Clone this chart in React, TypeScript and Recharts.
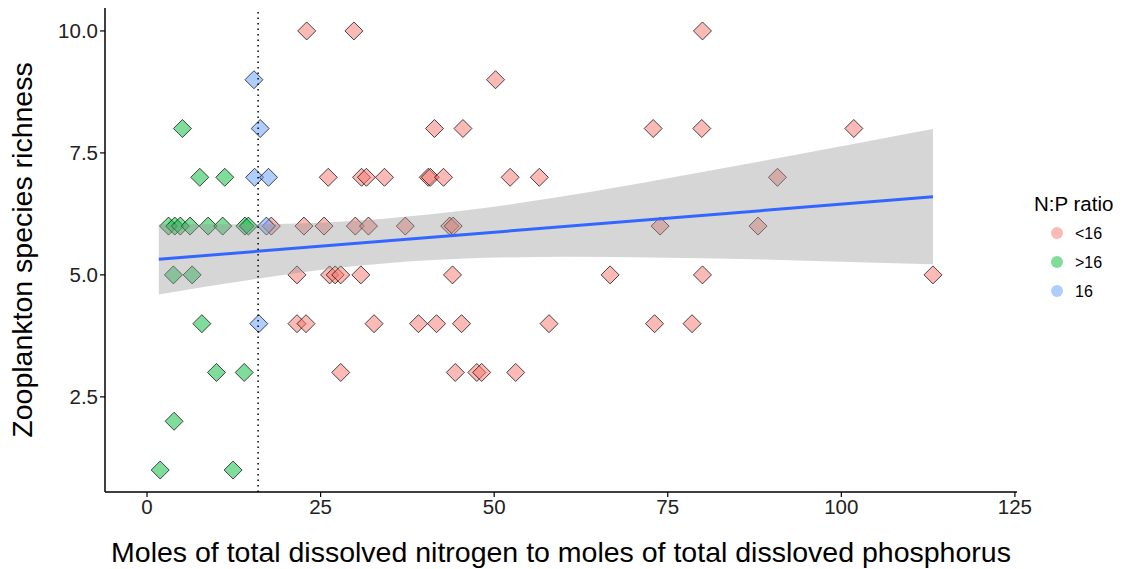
import { Area, ComposedChart, Line, ReferenceLine, Scatter, XAxis, YAxis } from "recharts";

// N:P ratio groups, x = TDN:TDP molar ratio, y = species richness
const belowSixteen = [
  { x: 23.0, y: 10 }, { x: 29.8, y: 10 }, { x: 80.0, y: 10 },
  { x: 50.2, y: 9 },
  { x: 41.4, y: 8 }, { x: 45.5, y: 8 }, { x: 72.9, y: 8 }, { x: 79.9, y: 8 }, { x: 101.8, y: 8 },
  { x: 26.1, y: 7 }, { x: 30.9, y: 7 }, { x: 31.6, y: 7 }, { x: 34.2, y: 7 }, { x: 40.5, y: 7 },
  { x: 40.8, y: 7 }, { x: 42.7, y: 7 }, { x: 52.3, y: 7 }, { x: 56.5, y: 7 }, { x: 90.8, y: 7 },
  { x: 17.9, y: 6 }, { x: 22.6, y: 6 }, { x: 25.5, y: 6 }, { x: 30.0, y: 6 }, { x: 31.9, y: 6 },
  { x: 37.2, y: 6 }, { x: 43.6, y: 6 }, { x: 44.1, y: 6 }, { x: 73.9, y: 6 }, { x: 88.0, y: 6 },
  { x: 21.6, y: 5 }, { x: 26.3, y: 5 }, { x: 27.1, y: 5 }, { x: 27.9, y: 5 }, { x: 30.8, y: 5 },
  { x: 44.0, y: 5 }, { x: 66.7, y: 5 }, { x: 80.0, y: 5 }, { x: 113.2, y: 5 },
  { x: 21.6, y: 4 }, { x: 22.9, y: 4 }, { x: 32.7, y: 4 }, { x: 39.1, y: 4 }, { x: 41.7, y: 4 },
  { x: 45.3, y: 4 }, { x: 57.9, y: 4 }, { x: 73.1, y: 4 }, { x: 78.5, y: 4 },
  { x: 27.9, y: 3 }, { x: 44.4, y: 3 }, { x: 47.5, y: 3 }, { x: 48.2, y: 3 }, { x: 53.1, y: 3 },
];

const aboveSixteen = [
  { x: 5.1, y: 8 },
  { x: 7.6, y: 7 }, { x: 11.2, y: 7 },
  { x: 3.1, y: 6 }, { x: 4.0, y: 6 }, { x: 4.8, y: 6 }, { x: 6.2, y: 6 },
  { x: 8.8, y: 6 }, { x: 10.9, y: 6 }, { x: 14.1, y: 6 }, { x: 14.6, y: 6 },
  { x: 3.8, y: 5 }, { x: 6.5, y: 5 },
  { x: 7.9, y: 4 },
  { x: 10.0, y: 3 }, { x: 14.0, y: 3 },
  { x: 3.9, y: 2 },
  { x: 1.9, y: 1 }, { x: 12.4, y: 1 },
];

const atSixteen = [
  { x: 15.4, y: 9 }, { x: 16.3, y: 8 }, { x: 15.5, y: 7 }, { x: 17.5, y: 7 },
  { x: 17.2, y: 6 }, { x: 16.1, y: 4 },
];

// lm fit and 95% band
const fitLine = [
  { x: 1.7, y: 5.32 },
  { x: 113.2, y: 6.6 },
];

const band = [
  { x: 1.7, lo: 4.6, hi: 6.04 },
  { x: 15, lo: 4.9, hi: 6.04 },
  { x: 30, lo: 5.18, hi: 6.11 },
  { x: 45, lo: 5.33, hi: 6.31 },
  { x: 60, lo: 5.37, hi: 6.61 },
  { x: 75, lo: 5.35, hi: 6.98 },
  { x: 90, lo: 5.31, hi: 7.37 },
  { x: 105, lo: 5.25, hi: 7.77 },
  { x: 113.2, lo: 5.22, hi: 7.99 },
];

const xTicks = [0, 25, 50, 75, 100, 125];
const yTicks = [2.5, 5, 7.5, 10];

const groups = [
  { name: "<16", color: "#F8766D", data: belowSixteen },
  { name: ">16", color: "#00BA38", data: aboveSixteen },
  { name: "16", color: "#619CFF", data: atSixteen },
];

const font = "'Liberation Sans', Arial, sans-serif";

function Diamond(props: any) {
  const { cx, cy, color } = props;
  if (cx == null || cy == null) return null;
  const r = 9;
  return (
    <path
      d={`M${cx},${cy - r}L${cx + r},${cy}L${cx},${cy + r}L${cx - r},${cy}Z`}
      fill={color}
      fillOpacity={0.5}
      stroke="#000"
      strokeOpacity={0.7}
      strokeWidth={1}
    />
  );
}

function NPLegend() {
  return (
    <svg width={100} height={130} style={{ position: "absolute", left: 1026, top: 186 }}>
      <text x={8} y={25} fontSize={20.5} fontFamily={font} fill="#000">N:P ratio</text>
      {groups.map((g, i) => (
        <g key={g.name}>
          <circle cx={31} cy={47 + i * 29} r={6} fill={g.color} fillOpacity={0.5} />
          <text x={49} y={53 + i * 29} fontSize={16} fontFamily={font} fill="#000">{g.name}</text>
        </g>
      ))}
    </svg>
  );
}

export default function App() {
  return (
    <div style={{ position: "absolute", left: 0, top: 0, width: 1126, height: 569, background: "#fff" }}>
      <ComposedChart width={1126} height={569} margin={{ top: 8, right: 109, bottom: 0, left: 0 }}>
        <XAxis
          type="number"
          dataKey="x"
          domain={[-6.05, 125.3]}
          ticks={xTicks}
          allowDataOverflow
          height={77}
          tickSize={5}
          axisLine={{ stroke: "#000", strokeWidth: 1.5 }}
          tickLine={{ stroke: "#000", strokeWidth: 1.2 }}
          tick={{ fill: "#222", fontSize: 20.5, fontFamily: font }}
          label={{
            value: "Moles of total dissolved nitrogen to moles of total dissloved phosphorus",
            position: "insideBottom",
            offset: 7,
            style: { fill: "#000", fontSize: 28.5, fontFamily: font },
          }}
        />
        <YAxis
          type="number"
          dataKey="y"
          domain={[0.55, 10.47]}
          ticks={yTicks}
          allowDataOverflow
          width={105}
          tickSize={5}
          tickFormatter={(v: number) => v.toFixed(1)}
          axisLine={{ stroke: "#000", strokeWidth: 1.5 }}
          tickLine={{ stroke: "#000", strokeWidth: 1.2 }}
          tick={{ fill: "#222", fontSize: 20.5, fontFamily: font }}
          label={{
            value: "Zooplankton species richness",
            angle: -90,
            position: "insideLeft",
            offset: 22,
            style: { textAnchor: "middle", fill: "#000", fontSize: 28.5, fontFamily: font },
          }}
        />
        {groups.map((g) => (
          <Scatter
            key={g.name}
            name={g.name}
            data={g.data}
            isAnimationActive={false}
            shape={(p: any) => <Diamond {...p} color={g.color} />}
          />
        ))}
        <Area
          data={band}
          dataKey={(d: any) => [d.lo, d.hi]}
          type="monotone"
          stroke="none"
          fill="#999999"
          fillOpacity={0.4}
          isAnimationActive={false}
          zIndex={700}
        />
        <Line
          data={fitLine}
          dataKey="y"
          stroke="#3366FF"
          strokeWidth={3}
          dot={false}
          isAnimationActive={false}
          zIndex={800}
        />
        <ReferenceLine x={16} stroke="#000" strokeWidth={1.5} strokeDasharray="1.5 4" zIndex={900} />
      </ComposedChart>
      <NPLegend />
    </div>
  );
}
